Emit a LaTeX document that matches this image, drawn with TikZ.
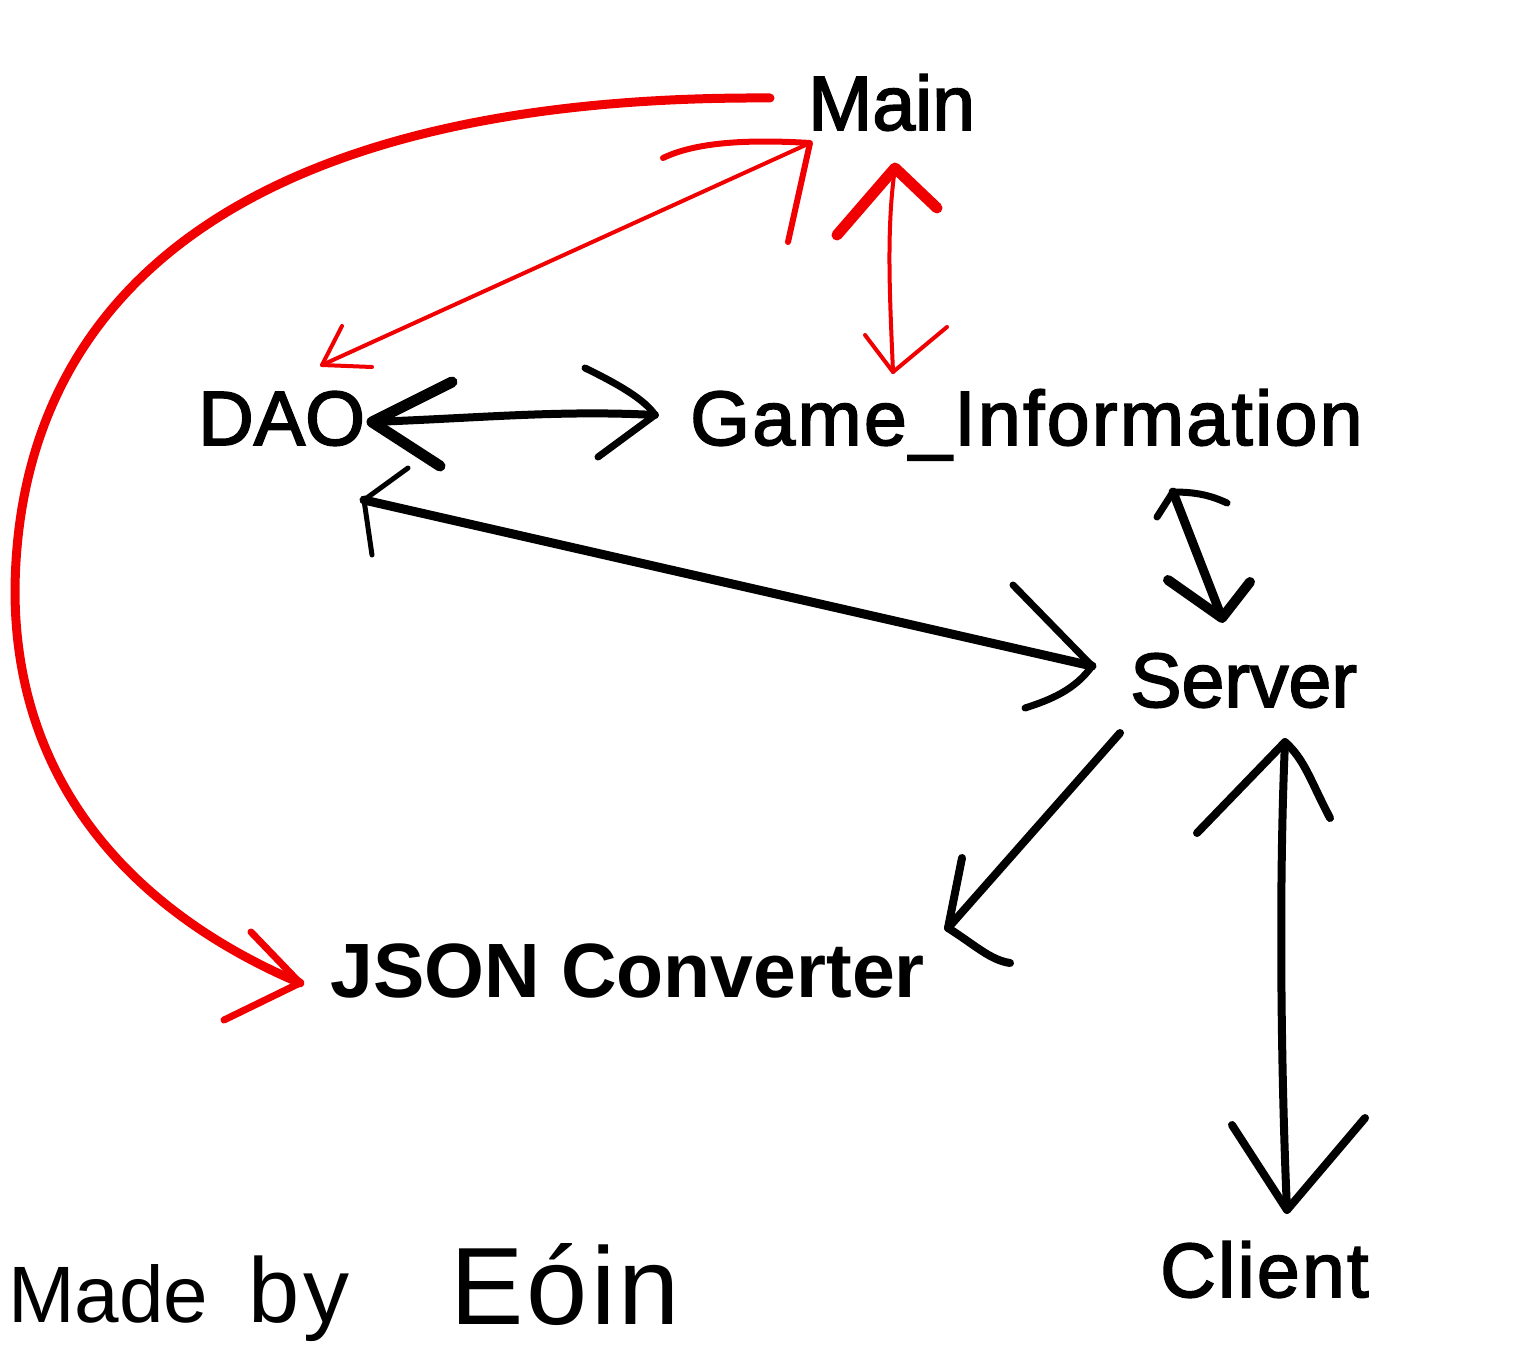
\documentclass[tikz,border=0pt]{standalone}
\usepackage{fontspec}
\setmainfont{Liberation Sans}
\newfontfamily\lbl{Liberation Sans}[FakeBold=2.2]
\newfontfamily\sigfont{Liberation Sans}
\definecolor{penred}{RGB}{240,0,0}
\begin{document}
\begin{tikzpicture}[x=1pt,y=-1pt,
  lab/.style={inner sep=0pt, anchor=base west, font=\lbl\fontsize{77}{80}\selectfont},
  jlab/.style={inner sep=0pt, anchor=base west, font=\fontsize{77}{80}\selectfont\bfseries},
  siglab/.style={inner sep=0pt, anchor=base west, font=\sigfont\fontsize{#1}{#1}\selectfont},
  redpen/.style={draw=penred, line width=#1, line cap=round, line join=round},
  blkpen/.style={draw=black, line width=#1, line cap=round, line join=round}]
\useasboundingbox (0,0) rectangle (1517,1351);
% labels
\node[lab] (main) at (808,130) {Main};
\node[lab] (dao) at (198,445) {DAO};
\node[lab] (game) at (690,445) {\addfontfeature{LetterSpace=3}Game\_Information};
\node[lab] (server) at (1130,707) {Server};
\node[jlab] (json) at (330,997) {JSON Converter};
\node[lab] (client) at (1160,1297) {\addfontfeature{LetterSpace=3}Client};
% signature
\node[siglab=80] (made) at (8,1322) {Made};
\node[siglab=92] (by) at (248,1322) {\addfontfeature{LetterSpace=5}by};
\node[siglab=110] (eoin) at (450,1324) {\addfontfeature{LetterSpace=3}Eóin};
% connector end points
\coordinate (mainArc) at (770,98);
\coordinate (jsonTipW) at (300,983);
\coordinate (mainTipL) at (810,143);
\coordinate (daoTipR) at (322,365);
\coordinate (mainTipD) at (895,168);
\coordinate (gameTipU) at (893,372);
\coordinate (daoTipE) at (372,422);
\coordinate (gameTipW) at (655,415);
\coordinate (daoTipS) at (364,500);
\coordinate (serverTipW) at (1092,666);
\coordinate (gameTipS) at (1173,492);
\coordinate (serverTipN) at (1222,618);
\coordinate (serverTail) at (1120,733);
\coordinate (jsonTipE) at (948,928);
\coordinate (serverTipS) at (1285,742);
\coordinate (clientTipN) at (1287,1210);
% red: Main -> JSON Converter (big arc)
\draw[redpen=9] (mainArc) .. controls (250,95) and (18,290) .. (15,590)
  .. controls (15,790) and (140,915) .. (jsonTipW);
\draw[redpen=7] (251,932) -- (jsonTipW) -- (224,1020);
% red: Main <-> DAO
\draw[redpen=4] (mainTipL) -- (daoTipR);
\draw[redpen=4] (342,326) -- (daoTipR) -- (372,367);
\draw[redpen=6] (663,158) .. controls (700,140) and (760,140) .. (mainTipL) -- (788,242);
% red: Main <-> Game_Information
\draw[redpen=4] (mainTipD) .. controls (886,230) and (890,300) .. (gameTipU);
\draw[redpen=11] (837,235) -- (mainTipD) -- (937,208);
\draw[redpen=4] (865,335) -- (gameTipU) -- (947,327);
% black: DAO <-> Game_Information
\draw[blkpen=8] (daoTipE) .. controls (480,418) and (560,410) .. (gameTipW);
\draw[blkpen=11] (452,382) -- (daoTipE) -- (440,466);
\draw[blkpen=7] (585,368) .. controls (620,385) and (645,400) .. (gameTipW) -- (598,457);
% black: DAO <-> Server
\draw[blkpen=9] (daoTipS) -- (serverTipW);
\draw[blkpen=5] (408,468) -- (daoTipS) -- (372,555);
\draw[blkpen=7] (1013,585) -- (serverTipW) .. controls (1075,690) and (1050,700) .. (1025,708);
% black: Game_Information <-> Server
\draw[blkpen=9] (gameTipS) -- (serverTipN);
\draw[blkpen=7] (1157,517) -- (gameTipS) .. controls (1195,492) and (1210,495) .. (1227,503);
\draw[blkpen=10] (1168,580) -- (serverTipN) -- (1250,582);
% black: Server -> JSON Converter
\draw[blkpen=8] (serverTail) -- (jsonTipE);
\draw[blkpen=8] (962,858) -- (jsonTipE) .. controls (975,945) and (990,960) .. (1010,963);
% black: Server <-> Client
\draw[blkpen=8] (serverTipS) .. controls (1278,900) and (1282,1100) .. (clientTipN);
\draw[blkpen=8] (1197,833) -- (serverTipS) .. controls (1305,760) and (1310,780) .. (1330,818);
\draw[blkpen=8] (1232,1125) -- (clientTipN) -- (1365,1118);
\end{tikzpicture}
\end{document}
